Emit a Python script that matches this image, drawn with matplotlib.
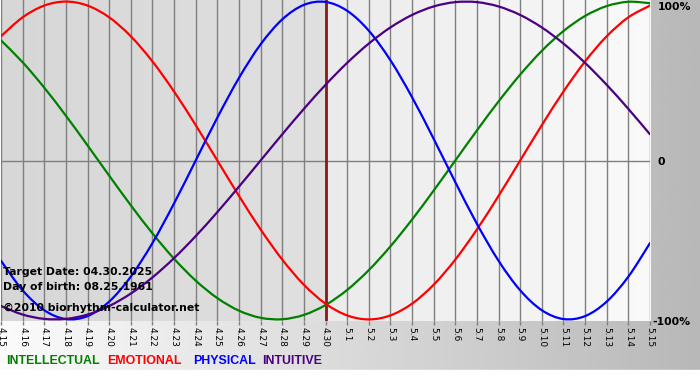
import numpy as np
import matplotlib.pyplot as plt
from matplotlib.path import Path
from matplotlib.patches import PathPatch

# Biorhythm values read per day, 4.15 .. 5.15 (2025)
dates = ["4.15", "4.16", "4.17", "4.18", "4.19", "4.20", "4.21", "4.22", "4.23", "4.24",
         "4.25", "4.26", "4.27", "4.28", "4.29", "4.30", "5.1", "5.2", "5.3", "5.4",
         "5.5", "5.6", "5.7", "5.8", "5.9", "5.10", "5.11", "5.12", "5.13", "5.14", "5.15"]

physical = [-0.6311, -0.8170, -0.9423, -0.9977, -0.9791, -0.8879, -0.7308, -0.5196, -0.2698, 0.0,
            0.2698, 0.5196, 0.7308, 0.8879, 0.9791, 0.9977, 0.9423, 0.8170, 0.6311, 0.3984,
            0.1362, -0.1362, -0.3984, -0.6311, -0.8170, -0.9423, -0.9977, -0.9791, -0.8879, -0.7308,
            -0.5196]
emotional = [0.7818, 0.9010, 0.9749, 1.0, 0.9749, 0.9010, 0.7818, 0.6235, 0.4339, 0.2225,
             0.0, -0.2225, -0.4339, -0.6235, -0.7818, -0.9010, -0.9749, -1.0, -0.9749, -0.9010,
             -0.7818, -0.6235, -0.4339, -0.2225, 0.0, 0.2225, 0.4339, 0.6235, 0.7818, 0.9010,
             0.9749]
intellectual = [0.7557, 0.6182, 0.4582, 0.2817, 0.0951, -0.0951, -0.2817, -0.4582, -0.6182, -0.7557,
                -0.8660, -0.9450, -0.9898, -0.9989, -0.9718, -0.9096, -0.8146, -0.6901, -0.5406, -0.3717,
                -0.1893, 0.0, 0.1893, 0.3717, 0.5406, 0.6901, 0.8146, 0.9096, 0.9718, 0.9989,
                0.9898]
intuitive = [-0.9158, -0.9694, -0.9966, -0.9966, -0.9694, -0.9158, -0.8372, -0.7357, -0.6142, -0.4759,
             -0.3247, -0.1646, 0.0, 0.1646, 0.3247, 0.4759, 0.6142, 0.7357, 0.8372, 0.9158,
             0.9694, 0.9966, 0.9966, 0.9694, 0.9158, 0.8372, 0.7357, 0.6142, 0.4759, 0.3247,
             0.1646]

target_idx = dates.index("4.30")
series_names = ["INTELLECTUAL", "EMOTIONAL", "PHYSICAL", "INTUITIVE"]
series_colors = ["#008000", "#ff0000", "#0000ff", "#4b0082"]


def smooth_path(xs, ys):
    # Catmull-Rom style bezier through the daily points (drawing only)
    pts = np.column_stack([xs, ys]).astype(float)
    verts = [pts[0]]
    codes = [Path.MOVETO]
    for i in range(len(pts) - 1):
        p0 = pts[max(i - 1, 0)]
        p1 = pts[i]
        p2 = pts[i + 1]
        p3 = pts[min(i + 2, len(pts) - 1)]
        verts += [p1 + (p2 - p0) / 6, p2 - (p3 - p1) / 6, p2]
        codes += [Path.CURVE4] * 3
    return Path(verts, codes)


W, H = 700, 380
fig = plt.figure(figsize=(W / 100, H / 100), dpi=100)

# figure background: horizontal gradient, white strip at bottom
bg = fig.add_axes([0, 0, 1, 1], zorder=-10)
grad = np.linspace(0.985, 0.72, 256)[None, :]
bg.imshow(grad, cmap="gray", vmin=0, vmax=1, aspect="auto", extent=[0, 1, 10 / H, 1])
bg.axhspan(0, 10 / H, color="white")
bg.set_xlim(0, 1)
bg.set_ylim(0, 1)
bg.axis("off")

ax = fig.add_axes([1 / W, (H - 321) / H, 649 / W, 321 / H])
ax.patch.set_alpha(0)
ylo, yhi = -1.01, 1.01
n = len(dates) - 1

# plot area backgrounds (past darker, future lighter)
ax.imshow(np.linspace(0.84, 0.875, 64)[None, :], cmap="gray", vmin=0, vmax=1,
          aspect="auto", extent=[0, target_idx, ylo, yhi], zorder=0)
ax.imshow(np.linspace(0.92, 0.975, 64)[None, :], cmap="gray", vmin=0, vmax=1,
          aspect="auto", extent=[target_idx, n, ylo, yhi], zorder=0)

for i in range(len(dates)):
    ax.axvline(i, color="#7f7f7f", lw=1, zorder=1)
ax.axhline(0, color="#7f7f7f", lw=1, zorder=1)

x = np.arange(len(dates))
for vals, c in zip([intellectual, emotional, physical, intuitive], series_colors):
    ax.add_patch(PathPatch(smooth_path(x, vals), facecolor="none", edgecolor=c,
                           lw=1.6, zorder=3, capstyle="round"))

ax.axvline(target_idx, color="#8b1a1a", lw=2, zorder=2)

ax.set_xlim(0, n)
ax.set_ylim(ylo, yhi)
ax.set_xticks(x)
ax.set_xticklabels(dates, rotation=270, fontsize=6.5, family="DejaVu Sans")
ax.tick_params(axis="x", length=3, width=1, color="#7f7f7f", pad=1)
ax.set_yticks([])
for s in ax.spines.values():
    s.set_visible(False)

# overlay text
txt = dict(fontsize=7.8, fontweight="bold", color="black", family="DejaVu Sans",
           transform=fig.transFigure, va="center", ha="left")
fig.text(3 / W, 1 - 272 / H, "Target Date: 04.30.2025", **txt)
fig.text(3 / W, 1 - 287 / H, "Day of birth: 08.25.1961", **txt)
fig.text(3 / W, 1 - 308 / H, "\u00a92010 biorhythm-calculator.net", **txt)

# right-side labels
lab = dict(fontsize=7.8, fontweight="bold", color="black", family="DejaVu Sans",
           va="center", ha="left")
fig.text(658 / W, 1 - 7 / H, "100%", **lab)
fig.text(658 / W, 1 - 162 / H, "0", **lab)
fig.text(652 / W, 1 - 322 / H, "-100%", **lab)

# legend
leg_x = [6, 107, 193, 262]
for name, c, lx in zip(series_names, series_colors, leg_x):
    fig.text(lx / W, 1 - 361 / H, name, color=c, fontsize=8.9, fontweight="bold",
             family="Liberation Sans", va="center", ha="left")

plt.savefig("out.png", dpi=100)
